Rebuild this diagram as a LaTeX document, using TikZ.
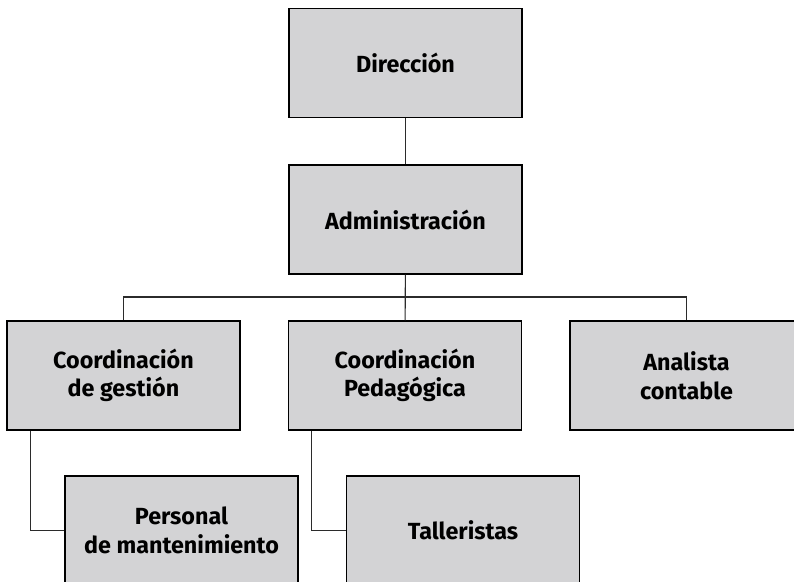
\documentclass[tikz,border=0pt]{standalone}
\usepackage{fontspec}
\setmainfont{Fira Sans}
\usetikzlibrary{positioning}
\definecolor{boxgray}{HTML}{D3D3D5}
\definecolor{linegray}{HTML}{2B2B2B}

\begin{document}
\begin{tikzpicture}[x=0.75pt,y=-0.75pt,
    unit/.style={rectangle,draw=black,fill=boxgray,line width=0.9pt,
      minimum width=174.75pt,minimum height=81.75pt,inner sep=0pt,
      align=center,font=\bfseries\fontsize{17.5}{21.5}\selectfont},
    link/.style={draw=linegray,line width=0.8pt}]
        \clip (0,0) rectangle (794,582);
        \fill[white] (0,0) rectangle (794,582);
        \foreach \p/\n/\t in {(405.5,63)/dir/{Dirección},(405.5,219.5)/adm/{Administración},
            (123.5,375.5)/cg/{Coordinación\\de gestión},(405,375.5)/cp/{Coordinación\\Pedagógica},
            (686.5,375.5)/ac/{Analista\\contable},(181.5,530.5)/pm/{Personal\\de mantenimiento},
            (463,530.5)/ta/{Talleristas}}
          \node[unit] (\n) at \p {\t};
        \coordinate (bus) at (405,297);
        \draw[link] (dir) -- (adm);
        \draw[link] (adm) -- (cp);
        \draw[link] (cg.north) |- (bus) -| (ac.north);
        \draw[link] ([xshift=18pt]cg.south west) |- (pm.west);
        \draw[link] ([xshift=18pt]cp.south west) |- (ta.west);
      \end{tikzpicture}
\end{document}
